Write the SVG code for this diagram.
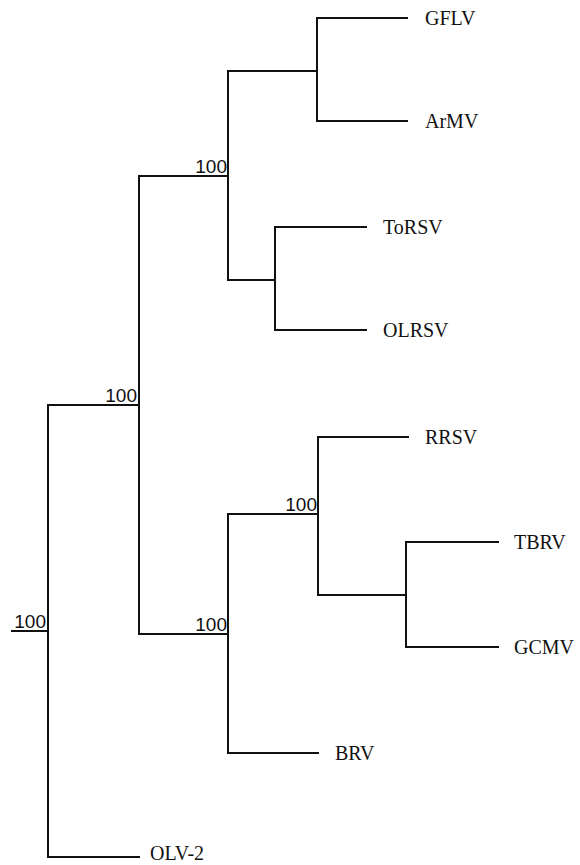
<svg xmlns="http://www.w3.org/2000/svg" width="580" height="865" viewBox="0 0 580 865">
<style>
  .e { stroke: #111; stroke-width: 2; fill: none; stroke-linecap: square; }
  .leaf { font-family: "Liberation Serif", "Times New Roman", serif; font-size: 20px; fill: #111; }
  .bs { font-family: "Liberation Sans", Arial, sans-serif; font-size: 19px; fill: #111; text-anchor: end; }
</style>
<rect width="580" height="865" fill="#fff"/>
<g id="connectors">
  <path class="e" d="M12,631 H48 M48,405 V857 H139"/>
  <path class="e" d="M48,405 H139 M139,176 V634"/>
  <path class="e" d="M139,176 H228 M228,71 V280"/>
  <path class="e" d="M228,71 H317 M317,18 V121 M317,18 H407 M317,121 H407"/>
  <path class="e" d="M228,280 H275 M275,227 V330 M275,227 H366 M275,330 H366"/>
  <path class="e" d="M139,634 H228 M228,514 V753 M228,753 H318"/>
  <path class="e" d="M228,514 H318 M318,437 V595 M318,437 H408"/>
  <path class="e" d="M318,595 H406 M406,542 V647 M406,542 H498 M406,647 H498"/>
</g>
<g id="support">
  <text class="bs" x="46" y="628">100</text>
  <text class="bs" x="137" y="402">100</text>
  <text class="bs" x="227" y="173">100</text>
  <text class="bs" x="227" y="631">100</text>
  <text class="bs" x="317" y="511">100</text>
</g>
<g id="GFLV"><text class="leaf" x="425" y="25">GFLV</text></g>
<g id="ArMV"><text class="leaf" x="425" y="128">ArMV</text></g>
<g id="ToRSV"><text class="leaf" x="383" y="234">ToRSV</text></g>
<g id="OLRSV"><text class="leaf" x="383" y="337">OLRSV</text></g>
<g id="RRSV"><text class="leaf" x="425" y="444">RRSV</text></g>
<g id="TBRV"><text class="leaf" x="514" y="549">TBRV</text></g>
<g id="GCMV"><text class="leaf" x="514" y="654">GCMV</text></g>
<g id="BRV"><text class="leaf" x="335" y="760">BRV</text></g>
<g id="OLV-2"><text class="leaf" x="150" y="860">OLV-2</text></g>
</svg>
